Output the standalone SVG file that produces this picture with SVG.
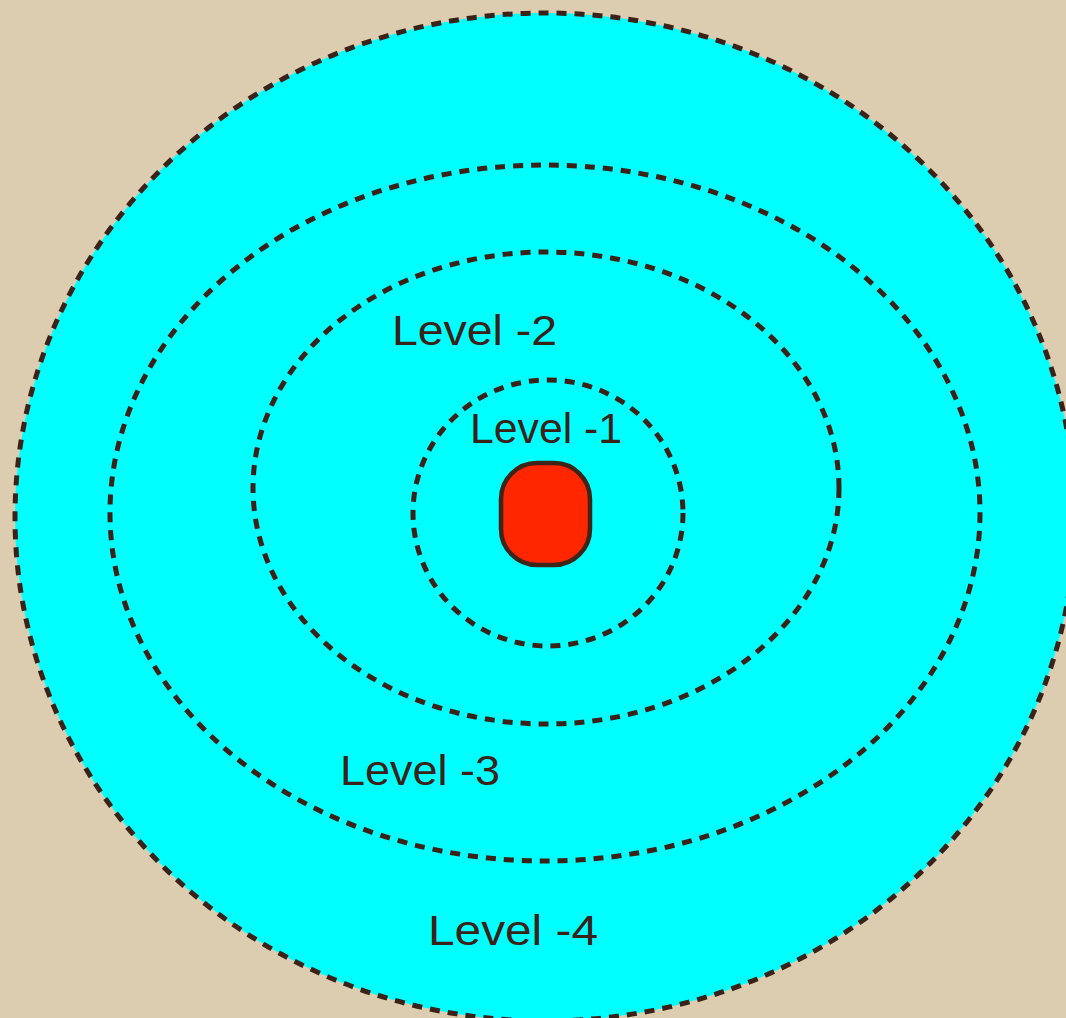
<svg xmlns="http://www.w3.org/2000/svg" width="1066" height="1018" viewBox="0 0 1066 1018">
<style>
.ring{fill:none;stroke:#3a2219;stroke-width:5;stroke-dasharray:10 8}
.lbl{font-family:"Liberation Sans",Arial,sans-serif;font-size:42px;fill:#3a2219}
</style>
<rect width="1066" height="1018" fill="#dccdb1"/>
<g id="level4">
<ellipse cx="545" cy="517" rx="530" ry="504" class="ring" style="fill:#00ffff"/>
<text class="lbl" x="428" y="945" textLength="170" lengthAdjust="spacingAndGlyphs">Level -4</text>
</g>
<g id="level3">
<ellipse cx="545" cy="513" rx="435" ry="348" class="ring"/>
<text class="lbl" x="340" y="785" textLength="160" lengthAdjust="spacingAndGlyphs">Level -3</text>
</g>
<g id="level2">
<ellipse cx="546" cy="488" rx="293" ry="236" class="ring"/>
<text class="lbl" x="392" y="345" textLength="165" lengthAdjust="spacingAndGlyphs">Level -2</text>
</g>
<g id="level1">
<ellipse cx="548" cy="513" rx="135" ry="133" class="ring"/>
<text class="lbl" x="470" y="443" textLength="152" lengthAdjust="spacingAndGlyphs">Level -1</text>
</g>
<g id="core">
<rect x="501" y="463" width="89" height="102" rx="36" ry="36" fill="#ff2600" stroke="#3f2418" stroke-width="4.5"/>
</g>
<g id="connectors"/>
</svg>
